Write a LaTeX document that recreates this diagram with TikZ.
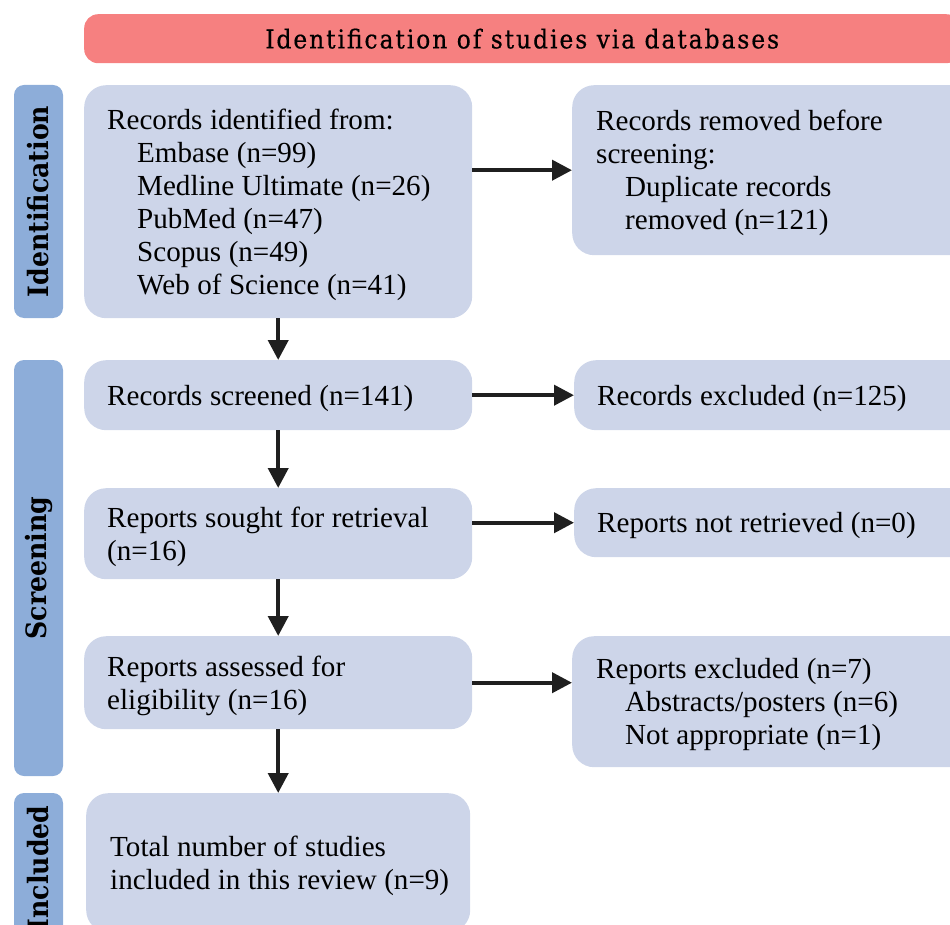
\documentclass[tikz,border=0pt]{standalone}
\usepackage{fontspec}
\setmainfont{Liberation Serif}
\newfontfamily\titlefont{DejaVu Serif Condensed}
\newfontfamily\titlespaced{DejaVu Serif Condensed}[LetterSpace=7.5,FakeBold=0.5]
\usetikzlibrary{arrows.meta}
\definecolor{boxc}{HTML}{CDD5E9}
\definecolor{sidec}{HTML}{8DADD9}
\definecolor{titlec}{HTML}{F68080}
\definecolor{arrowc}{HTML}{1F1F1F}
\newcommand\myboxfont{\fontsize{29.1}{33}\selectfont}
\newcommand\myboxstart{\spaceskip=7.5pt plus 1pt minus 1pt\relax\rule{0pt}{26pt}}
\tikzset{
  box/.style={fill=boxc, rounded corners=22pt, anchor=north west, align=left,
    inner ysep=0pt, font=\myboxfont,
    execute at begin node=\myboxstart},
  sidebar/.style={fill=sidec, rounded corners=10pt, rotate=90, inner sep=0pt,
    minimum height=49pt, font=\titlefont\bfseries\fontsize{28}{32}\selectfont},
  titlebar/.style={fill=titlec, rounded corners=14pt, anchor=north west, inner sep=0pt,
    minimum height=49pt, minimum width=876pt, font=\titlespaced\fontsize{26}{30}\selectfont},
  arr/.style={draw=arrowc, line width=4pt, -{Triangle[length=20pt,width=20pt]}},
}
\begin{document}
\begin{tikzpicture}[x=1pt,y=-1pt]
\useasboundingbox (0,0) rectangle (950,925);
\clip (0,0) rectangle (950,925);
\node[titlebar] (T) at (84,14) {Identification of studies via databases};
\node[sidebar, minimum width=233pt] (S1) at (38.5,201.5) {Identification};
\node[sidebar, minimum width=416pt] (S2) at (38.5,568) {Screening};
\node[sidebar, minimum width=150pt] (S3) at (38.5,868) {Included};

\node[box, inner xsep=23pt, text width=342pt, minimum height=233pt] (B1) at (84,85)
 {Records identified from:\\
  \hspace*{30pt}Embase (n=99)\\
  \hspace*{30pt}Medline Ultimate (n=26)\\
  \hspace*{30pt}PubMed (n=47)\\
  \hspace*{30pt}Scopus (n=49)\\
  \hspace*{30pt}Web of Science (n=41)};
\node[box, inner xsep=24pt, text width=352pt, minimum height=170pt] (B2) at (572,85)
 {Records removed before\\
  screening:\\
  \hspace*{29pt}Duplicate records\\
  \hspace*{29pt}removed (n=121)};
\node[box, inner xsep=23pt, text width=342pt, minimum height=70pt] (B3) at (84,360)
 {Records screened (n=141)};
\node[box, inner xsep=23pt, text width=354pt, minimum height=70pt] (B4) at (574,360)
 {Records excluded (n=125)};
\node[box, inner xsep=23pt, text width=342pt, minimum height=91pt] (B5) at (84,488)
 {Reports sought for retrieval\\(n=16)};
\node[box, inner xsep=23pt, text width=354pt, minimum height=69pt] (B6) at (574,488)
 {Reports not retrieved (n=0)};
\node[box, inner xsep=23pt, text width=342pt, minimum height=93pt] (B7) at (84,636)
 {Reports assessed for\\eligibility (n=16)};
\node[box, inner xsep=24pt, text width=352pt, minimum height=131pt] (B8) at (572,636)
 {Reports excluded (n=7)\\
  \hspace*{29pt}Abstracts/posters (n=6)\\
  \hspace*{29pt}Not appropriate (n=1)};
\node[box, inner xsep=12pt, text width=360pt, minimum height=139pt] (B9) at (86,793)
 {\hspace*{12pt}Total number of studies\\\hspace*{12pt}included in this review (n=9)};

\draw[arr] (B1.east |- B2.west) -- (B2.west);
\draw[arr] (B3.east) -- (B4.west);
\draw[arr] (B5.east |- B6.west) -- (B6.west);
\draw[arr] (B7.east) -- (B7.east -| B8.west);
\draw[arr] (B1.south) -- (B3.north);
\draw[arr] (B3.south) -- (B5.north);
\draw[arr] (B5.south) -- (B7.north);
\draw[arr] (B7.south) -- (B7.south |- B9.north);
\end{tikzpicture}
\end{document}
